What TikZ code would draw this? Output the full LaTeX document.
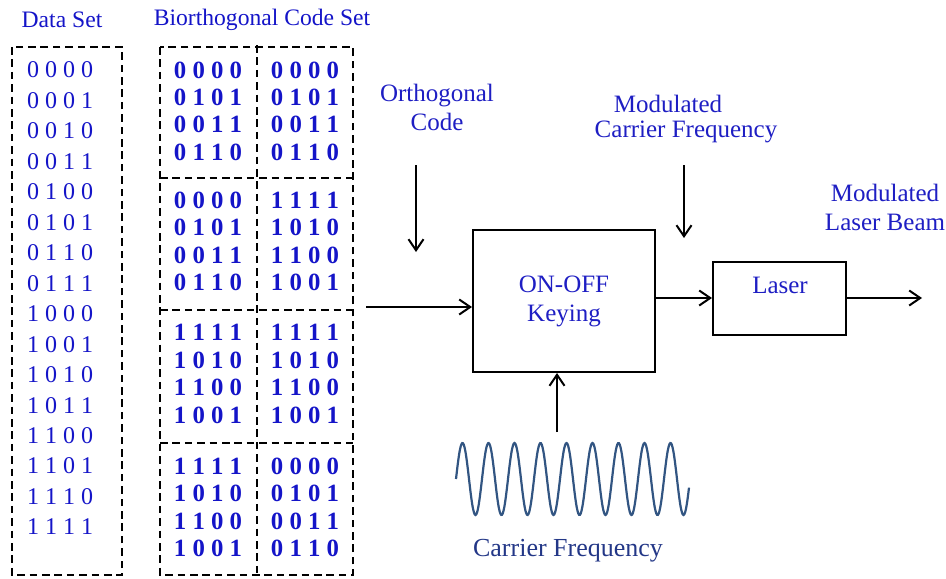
\documentclass[tikz,border=0pt]{standalone}
\usepackage{fontspec}
\setmainfont{Liberation Serif}
\usetikzlibrary{arrows.meta,calc}
\definecolor{txtblue}{RGB}{20,20,200}
\definecolor{lblblue}{RGB}{30,30,195}
\definecolor{navy}{RGB}{35,55,135}
\definecolor{sinecol}{RGB}{50,85,130}
\begin{document}
\begin{tikzpicture}[x=0.5pt,y=-0.5pt,
  arr/.style={line width=1pt,-{Straight Barb[length=5.5pt,width=7.5pt,line width=1pt]}},
  dbox/.style={draw,line width=1.4pt,dash pattern=on 3.8pt off 2.4pt},
  blk/.style={draw,line width=1pt,inner sep=0pt},
  hdr/.style={text=txtblue,font=\fontsize{11.8}{13}\selectfont},
  lbl/.style={text=lblblue,font=\fontsize{12.5}{13.5}\selectfont,align=center,inner sep=0pt},
  datatxt/.style={text=txtblue,font=\fontsize{12}{14}\selectfont,inner sep=0pt},
  codetxt/.style={text=txtblue,font=\fontsize{12.4}{14}\selectfont\bfseries,inner sep=0pt}]
\useasboundingbox (0,0) rectangle (946,578);

% headers
\node[hdr] (hdata) at (62,20) {Data Set};
\node[hdr] (hcode) at (262,20) {Biorthogonal Code Set};

% data set
\draw[dbox] (12,47) rectangle (122,575);
\foreach \t [count=\n] in {0 0 0 0,0 0 0 1,0 0 1 0,0 0 1 1,0 1 0 0,0 1 0 1,0 1 1 0,0 1 1 1,1 0 0 0,1 0 0 1,1 0 1 0,1 0 1 1,1 1 0 0,1 1 0 1,1 1 1 0,1 1 1 1}
  \node[datatxt] (data\n) at (60,{70+30.47*(\n-1)}) {\t};

% code set grid
\draw[dbox] (160,47) rectangle (353,575);
\draw[dbox] (257,45) -- (257,575);
\draw[dbox] (160,178) -- (353,178);
\draw[dbox] (160,310) -- (353,310);
\draw[dbox] (160,443) -- (353,443);

% code entries
\foreach \t [count=\n] in {0 0 0 0,0 1 0 1,0 0 1 1,0 1 1 0}{
  \node[codetxt] (cA\n) at (208,{70+27.4*(\n-1)}) {\t};
  \node[codetxt] (cB\n) at (305,{70+27.4*(\n-1)}) {\t};
  \node[codetxt] (cC\n) at (208,{200+27.6*(\n-1)}) {\t};
  \node[codetxt] (cH\n) at (305,{466+27.6*(\n-1)}) {\t};
}
\foreach \t [count=\n] in {1 1 1 1,1 0 1 0,1 1 0 0,1 0 0 1}{
  \node[codetxt] (cD\n) at (305,{200+27.6*(\n-1)}) {\t};
  \node[codetxt] (cE\n) at (208,{332+27.9*(\n-1)}) {\t};
  \node[codetxt] (cF\n) at (305,{332+27.9*(\n-1)}) {\t};
  \node[codetxt] (cG\n) at (208,{466+27.6*(\n-1)}) {\t};
}

% blocks
\node[blk,minimum width=91pt,minimum height=71pt,lbl] (keying) at (564,301) {ON-OFF\\[1pt]Keying};
\node[blk,minimum width=66.5pt,minimum height=36.5pt] (laser) at (779.5,298.5) {};
\node[lbl] (laserlbl) at (780,285) {Laser};

% labels
\node[lbl] (orth) at (437,107) {Orthogonal\\[1pt]Code};
\node[lbl] (mcf1) at (668,104) {Modulated};
\node[lbl] (mcf2) at (686,132) {Carrier Frequency};
\node[lbl] (mlb) at (885,207) {Modulated\\[1pt]Laser Beam};
\node[lbl,text=navy,font=\fontsize{13}{14}\selectfont] (cf) at (568,551) {Carrier Frequency};

% connectors
\coordinate (orthS) at (416,165);
\coordinate (orthE) at (416,252);
\draw[arr] (orthS) -- (orthE);
\coordinate (mcfS) at (684,165);
\coordinate (mcfE) at (684,238);
\draw[arr] (mcfS) -- (mcfE);
\coordinate (entry) at (366,307);
\draw[arr] (entry) -- (entry -| keying.west);
\coordinate (k2l) at (keying.east |- 0,298);
\draw[arr] (k2l) -- (k2l -| laser.west);
\coordinate (beamE) at (922,298);
\draw[arr] (laser.east |- beamE) -- (beamE);
\coordinate (cfS) at (557,432);
\draw[arr] (cfS) -- (cfS |- keying.south);

% carrier sine wave
\draw[color=sinecol,line width=1.1pt,smooth,samples=300,domain=456:689]
  plot (\x,{479-36*sin(((\x-456)/26)*360)});
\end{tikzpicture}
\end{document}
